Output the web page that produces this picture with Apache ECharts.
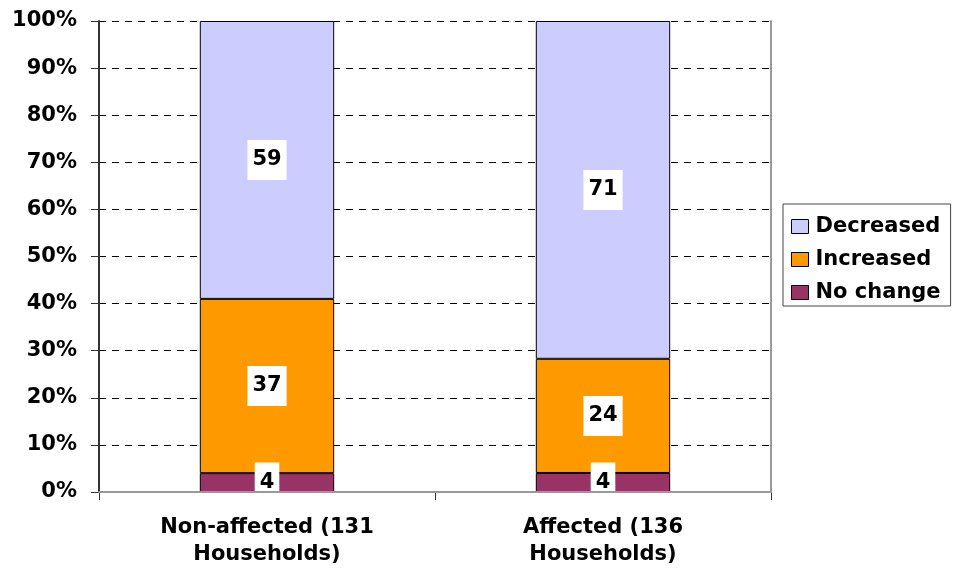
<!DOCTYPE html>
<html>
<head>
<meta charset="utf-8">
<script src="https://cdn.jsdelivr.net/npm/echarts@6/dist/echarts.min.js"></script>
<style>
  html, body { margin: 0; padding: 0; background: #fff; }
  #chart { width: 955px; height: 570px; }
</style>
</head>
<body>
<div id="chart"></div>
<script>
// Household groups and number of households per change type (%)
const categories = ['Non-affected (131\nHouseholds)', 'Affected (136\nHouseholds)'];
const noChange = [4, 4];
const increased = [37, 24];
const decreased = [59, 71];
const yTicks = [0, 10, 20, 30, 40, 50, 60, 70, 80, 90, 100];

// 100% stacking: each group is scaled by its own total
const totals = categories.map((_, i) => noChange[i] + increased[i] + decreased[i]);
const toShare = arr => arr.map((v, i) => ({ value: v / totals[i] * 100, raw: v }));

const FONT = '"DejaVu Sans", sans-serif';
const FS = 21;

const labelStyle = {
  show: true,
  position: 'inside',
  formatter: p => p.data.raw,
  color: '#000',
  fontFamily: FONT,
  fontWeight: 'bold',
  fontSize: FS,
  backgroundColor: '#fff',
  padding: [10, 5, 9, 5]
};

function barSeries(name, values, color) {
  return {
    name: name,
    type: 'bar',
    stack: 'share',
    barWidth: '40%',
    data: toShare(values),
    itemStyle: { color: color, borderColor: '#000', borderWidth: 1 },
    label: labelStyle,
    emphasis: { disabled: true }
  };
}

const chart = echarts.init(document.getElementById('chart'));
chart.setOption({
  animation: false,
  backgroundColor: '#fff',
  grid: { left: 99, right: 184, top: 21, bottom: 78, containLabel: false },
  legend: {
    orient: 'vertical',
    left: 783,
    top: 204,
    data: ['Decreased', 'Increased', 'No change'],
    icon: 'rect',
    itemWidth: 17,
    itemHeight: 14,
    itemGap: 12,
    padding: [12, 10, 3, 8],
    borderColor: '#444',
    borderWidth: 1,
    textStyle: {
      fontFamily: FONT,
      fontWeight: 'bold',
      fontSize: FS,
      color: '#000',
      padding: [0, 0, 0, 2]
    },
    itemStyle: { borderColor: '#000', borderWidth: 1 }
  },
  xAxis: [{
    type: 'category',
    data: categories,
    axisLine: { lineStyle: { color: '#333', width: 2 } },
    axisTick: { show: true, length: 8, lineStyle: { color: '#333' } },
    axisLabel: {
      color: '#000',
      fontFamily: FONT,
      fontWeight: 'bold',
      fontSize: FS,
      lineHeight: 27,
      margin: 22
    }
  }, {
    type: 'category',
    position: 'top',
    data: categories,
    z: 5,
    axisLine: { show: true, lineStyle: { color: '#999', width: 2 } },
    axisTick: { show: false },
    axisLabel: { show: false }
  }],
  yAxis: [{
    type: 'value',
    min: yTicks[0],
    max: yTicks[yTicks.length - 1],
    interval: yTicks[1] - yTicks[0],
    axisLine: { show: true, lineStyle: { color: '#333', width: 2 } },
    axisTick: { show: true, length: 8, lineStyle: { color: '#333' } },
    axisLabel: {
      formatter: '{value}%',
      color: '#000',
      fontFamily: FONT,
      fontWeight: 'bold',
      fontSize: FS,
      margin: 22
    },
    splitLine: { show: true, lineStyle: { color: '#000', type: [7, 6], width: 1 } }
  }, {
    type: 'value',
    position: 'right',
    min: yTicks[0],
    max: yTicks[yTicks.length - 1],
    interval: yTicks[1] - yTicks[0],
    z: 5,
    axisLine: { show: true, lineStyle: { color: '#999', width: 2 } },
    axisTick: { show: false },
    axisLabel: { show: false },
    splitLine: { show: false }
  }],
  series: [
    barSeries('No change', noChange, '#993366'),
    barSeries('Increased', increased, '#FF9900'),
    barSeries('Decreased', decreased, '#CCCCFF')
  ]
});
</script>
</body>
</html>
